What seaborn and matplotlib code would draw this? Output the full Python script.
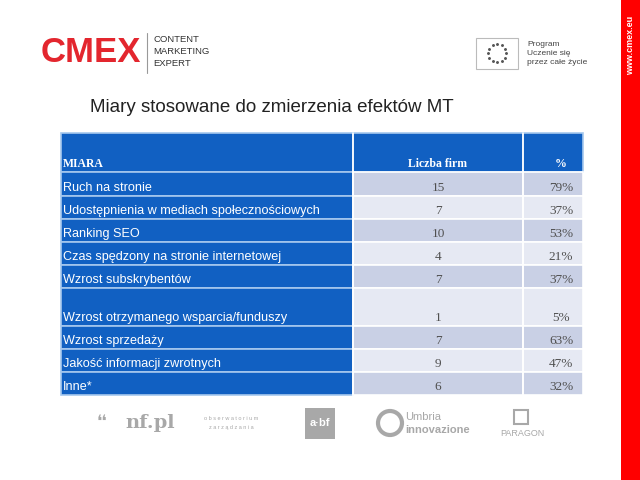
import numpy as np
import seaborn as sns
import matplotlib.pyplot as plt
from matplotlib.patches import Rectangle, Circle

sns.set_theme(style="white")
plt.rcParams["font.family"] = ["Liberation Sans", "DejaVu Sans"]

# data
title = "Miary stosowane do zmierzenia efektów MT"
header = ["MIARA", "Liczba firm", "%"]
miary = ["Ruch na stronie",
         "Udostępnienia w mediach społecznościowych",
         "Ranking SEO",
         "Czas spędzony na stronie internetowej",
         "Wzrost subskrybentów",
         "Wzrost otrzymanego wsparcia/funduszy",
         "Wzrost sprzedaży",
         "Jakość informacji zwrotnych",
         "Inne*"]
liczba_firm = [15, 7, 10, 4, 7, 1, 7, 9, 6]
procent = [79, 37, 53, 21, 37, 5, 63, 47, 32]

# layout in pixels
col_edges = [61, 353, 523, 583]
row_heights = [39, 24, 23, 23, 23, 23, 38, 23, 23, 23]
table_top = 133

blue = "#1160C2"
zebra = ["#C9D0E5", "#E6E9F3"]
line_blue = "#A6C8EE"
red = "#FF0000"

fig = plt.figure(figsize=(6.4, 4.8), dpi=100)
ax = fig.add_axes([0, 0, 1, 1])
ax.set_xlim(0, 640)
ax.set_ylim(480, 0)
ax.axis("off")

# table
row_tops = table_top + np.concatenate([[0], np.cumsum(row_heights)[:-1]])
for i, (top, h) in enumerate(zip(row_tops, row_heights)):
    bottom = top + h
    for c in range(3):
        x0, x1 = col_edges[c], col_edges[c + 1]
        if i == 0 or c == 0:
            fc = blue
            ec = line_blue
        else:
            fc = zebra[(i - 1) % 2]
            ec = "white"
        ax.add_patch(Rectangle((x0, top), x1 - x0, h, facecolor=fc,
                               edgecolor=ec, linewidth=1.2))
    # white vertical separators
    for xe in col_edges[1:3]:
        ax.plot([xe, xe], [top, bottom], color="white", lw=1.2)
    ty = bottom - 8
    if i == 0:
        ax.text(col_edges[0] + 2, ty, header[0], color="white", fontsize=8.5,
                fontweight="bold", family="Liberation Serif", va="center")
        ax.text((col_edges[1] + col_edges[2]) / 2, ty, header[1], color="white",
                fontsize=8.5, fontweight="bold", family="Liberation Serif",
                ha="center", va="center")
        ax.text(561, ty, header[2], color="white", fontsize=8.5,
                fontweight="bold", family="Liberation Serif", ha="center",
                va="center")
    else:
        k = i - 1
        ax.text(col_edges[0] + 2, ty, miary[k], color="white", fontsize=9.1,
                va="center")
        ax.text((col_edges[1] + col_edges[2]) / 2, ty, str(liczba_firm[k]),
                color="#505050", fontsize=9.5, family="Liberation Serif",
                ha="center", va="center")
        ax.text(561, ty, f"{procent[k]}%", color="#505050", fontsize=9.5,
                family="Liberation Serif", ha="center", va="center")

# title
ax.text(90, 107, title, fontsize=13.5, color="#222222", va="center")

# CMEX logo
ax.text(41, 53, "CMEX", fontsize=25, fontweight="bold", color="#E3262E",
        va="center", ha="left")
ax.plot([147, 147], [33, 73], color="#999999", lw=0.8)
for j, w in enumerate(["CONTENT", "MARKETING", "EXPERT"]):
    ax.text(153, 40 + j * 11.5, w, fontsize=6.8, color="#333333", va="center")

# EU programme logo
ax.add_patch(Rectangle((476, 38), 42, 31, facecolor="white",
                       edgecolor="#BBBBBB", linewidth=0.8))
ang = np.linspace(0, 2 * np.pi, 13)[:-1]
ax.scatter(497 + 9 * np.cos(ang), 53 + 9 * np.sin(ang), s=1.2, color="#555555")
for j, w in enumerate(["Program", "Uczenie się", "przez całe życie"]):
    ax.text(527, 44 + j * 9.5, w, fontsize=6, color="#444444", va="center")

# red strip
ax.add_patch(Rectangle((621, 0), 19, 480, facecolor=red, edgecolor="none"))
ax.text(630.5, 45, "www.cmex.eu", rotation=90, color="white", fontsize=6.5,
        fontweight="bold", ha="center", va="center")

# partner logos (grey)
grey = "#A8A8A8"
ax.text(97, 422, "❛❛", fontsize=12, color=grey, va="center",
        family="DejaVu Sans")
ax.text(125, 423, "nf.pl", fontsize=14, color=grey, va="center",
        family="DejaVu Serif", fontweight="bold")
ax.text(231, 419, "o b s e r w a t o r i u m", fontsize=4, color=grey,
        ha="center", va="center")
ax.text(231, 428, "z a r z ą d z a n i a", fontsize=4, color=grey,
        ha="center", va="center")
ax.add_patch(Rectangle((305, 408), 30, 31, facecolor=grey, edgecolor="none"))
ax.text(320, 423, "a·bf", fontsize=8, color="white", fontweight="bold",
        ha="center", va="center")
ax.add_patch(Circle((390, 423), 12, facecolor="none", edgecolor=grey, lw=3))
ax.text(405, 417, "Umbria", fontsize=8, color=grey, va="center")
ax.text(405, 430, "innovazione", fontsize=8, color=grey, va="center",
        fontweight="bold")
ax.add_patch(Rectangle((514, 410), 14, 14, facecolor="none", edgecolor=grey,
                       lw=1.5))
ax.text(522, 434, "PARAGON", fontsize=6.5, color=grey, ha="center",
        va="center")

fig.savefig("out.png", dpi=100, facecolor="white")
